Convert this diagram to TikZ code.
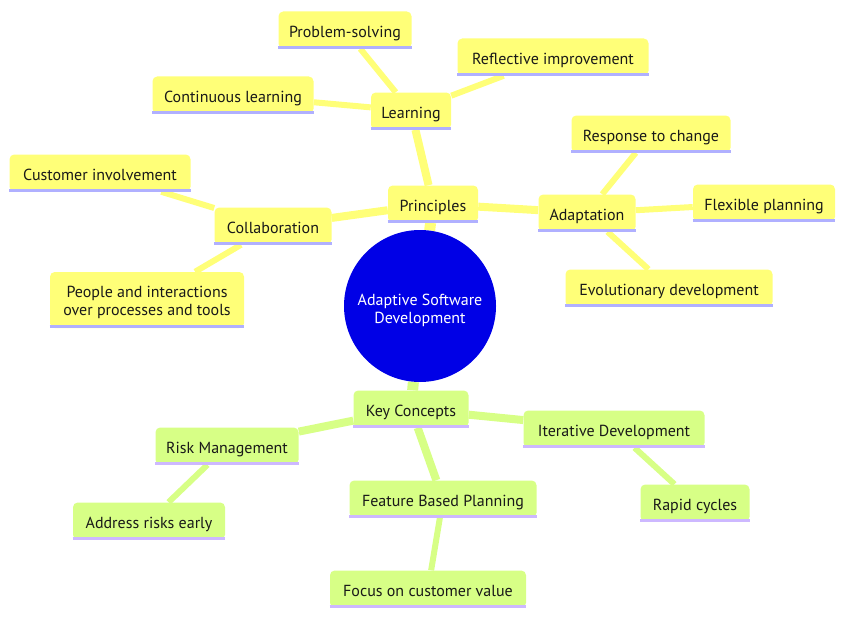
\documentclass[tikz,border=0pt]{standalone}
\usepackage{fontspec}
\setmainfont{PT Sans}
\usetikzlibrary{backgrounds}
\definecolor{yfill}{HTML}{FFFF78}
\definecolor{yline}{HTML}{B0B0FF}
\definecolor{gfill}{HTML}{D7FF86}
\definecolor{gline}{HTML}{CDB8FF}
\definecolor{rootc}{HTML}{0000E6}
\newcommand\mmnode[5]{%
  \node[#1box, minimum width=#4*0.75pt] (#2) at (#3) {#5};
  \draw[line width=2.25pt, draw=#1line] ([yshift=1.125pt]#2.south west) -- ([yshift=1.125pt]#2.south east);}
\newcommand\twolines[3]{\raisebox{#1}[0pt][0pt]{\begin{tabular}{@{}c@{}}#2\\#3\end{tabular}}}
\begin{document}
\begin{tikzpicture}[x=0.75pt,y=-0.75pt,
  font=\fontsize{12pt}{13.5pt}\selectfont,
  basebox/.style={rounded corners=3.5pt, inner sep=0pt, minimum height=27.75pt, text=black!90, text height=11.5pt, text depth=0.5pt},
  ybox/.style={basebox, fill=yfill},
  gbox/.style={basebox, fill=gfill},
  e0/.style={line width=8.25pt},
  e1/.style={line width=6pt},
  e2/.style={line width=4.5pt},
  ye/.style={draw=yfill},
  ge/.style={draw=gfill}]
\useasboundingbox (0,0) rectangle (845,617);
\node[circle, fill=rootc, minimum size=114pt, inner sep=0pt, text=white] (root) at (420,306) {\twolines{-6.75pt}{Adaptive Software}{Development}};
% Principles section
\mmnode{y}{prin}{433,204}{90}{Principles}
\mmnode{y}{learn}{411,111}{80}{Learning}
\mmnode{y}{prob}{345,30}{133}{Problem-solving}
\mmnode{y}{refl}{553,57}{191}{Reflective improvement}
\mmnode{y}{cont}{233,95}{161}{Continuous learning}
\mmnode{y}{adapt}{587,213}{97}{Adaptation}
\mmnode{y}{resp}{651,134}{159}{Response to change}
\mmnode{y}{flex}{764,203}{142}{Flexible planning}
\mmnode{y}{evol}{669,288}{207}{Evolutionary development}
\mmnode{y}{collab}{273,226}{117}{Collaboration}
\mmnode{y}{cust}{100,173}{181}{Customer involvement}
\node[ybox, minimum width=145.5pt, minimum height=42pt, text height=, text depth=] (people) at (147,300) {\twolines{-5.25pt}{People and interactions}{over processes and tools}};
\draw[line width=2.25pt, draw=yline] ([yshift=1.125pt]people.south west) -- ([yshift=1.125pt]people.south east);
% Key concepts section
\mmnode{g}{key}{411,409}{115}{Key Concepts}
\mmnode{g}{risk}{227,446}{143}{Risk Management}
\mmnode{g}{addr}{149,521}{152}{Address risks early}
\mmnode{g}{feat}{443,499}{187}{Feature Based Planning}
\mmnode{g}{focus}{428,589}{196}{Focus on customer value}
\mmnode{g}{iter}{614,429}{181}{Iterative Development}
\mmnode{g}{rapid}{695,503}{109}{Rapid cycles}
\begin{scope}[on background layer]
\draw[e0,ye] (root) -- (prin);
\draw[e1,ye] (prin) -- (learn);
\draw[e1,ye] (prin) -- (adapt);
\draw[e1,ye] (prin) -- (collab);
\draw[e2,ye] (learn) -- (prob);
\draw[e2,ye] (learn) -- (refl);
\draw[e2,ye] (learn) -- (cont);
\draw[e2,ye] (adapt) -- (resp);
\draw[e2,ye] (adapt) -- (flex);
\draw[e2,ye] (adapt) -- (evol);
\draw[e2,ye] (collab) -- (cust);
\draw[e2,ye] (collab) -- (people);
\draw[e0,ge] (root) -- (key);
\draw[e1,ge] (key) -- (risk);
\draw[e1,ge] (key) -- (feat);
\draw[e1,ge] (key) -- (iter);
\draw[e2,ge] (risk) -- (addr);
\draw[e2,ge] (feat) -- (focus);
\draw[e2,ge] (iter) -- (rapid);
\end{scope}
\end{tikzpicture}
\end{document}
